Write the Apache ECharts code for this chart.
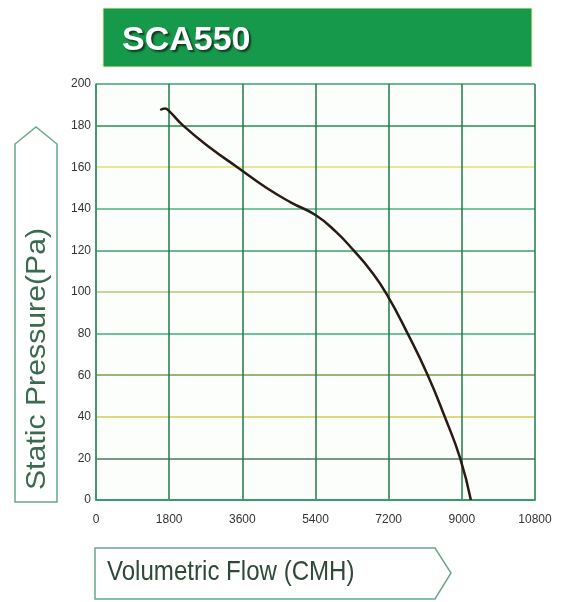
<!DOCTYPE html>
<html>
<head>
<meta charset="utf-8">
<script src="https://cdn.jsdelivr.net/npm/echarts@6/dist/echarts.min.js"></script>
<style>
html,body{margin:0;padding:0;background:#fff;}
#chart{width:561px;height:602px;}
</style>
</head>
<body>
<div id="chart"></div>
<script>
const title = "SCA550";
const xName = "Volumetric Flow (CMH)";
const yName = "Static Pressure(Pa)";
const flow =     [1580, 1700, 1800, 2145, 2800, 3477, 4200, 4800, 5400, 5900, 6337, 6750, 7150, 7668, 8162, 8580, 8960, 9222];
const pressure = [187.5, 188.2, 187, 180, 169.5, 160, 150, 143, 137, 129, 120, 110.5, 99, 80, 60, 40, 20, 0];
const xTicks = [0, 1800, 3600, 5400, 7200, 9000, 10800];
const yTicks = [0, 20, 40, 60, 80, 100, 120, 140, 160, 180, 200];

const hColors = ['#3a9a6a', '#4a7a5a', '#d6cc55', '#7e9a50', '#40b080', '#b8c870', '#3aa070', '#50b080', '#e2e070', '#2a8a50', '#3aa070'];

const chart = echarts.init(document.getElementById('chart'));
chart.setOption({
  backgroundColor: '#ffffff',
  animation: false,
  grid: {left: 96, right: 26, top: 84, bottom: 102, show: true, backgroundColor: '#fbfefb', borderWidth: 0},
  xAxis: {
    type: 'value', min: xTicks[0], max: xTicks[xTicks.length - 1], interval: 1800,
    axisLine: {show: true, lineStyle: {color: '#3a9a6a', width: 2}},
    axisTick: {show: false},
    axisLabel: {color: '#333', fontSize: 12, margin: 14, fontFamily: 'Liberation Sans', formatter: v => String(v)},
    splitLine: {show: true, lineStyle: {color: '#1f7a4a', width: 1.5}}
  },
  yAxis: {
    type: 'value', min: yTicks[0], max: yTicks[yTicks.length - 1], interval: 20,
    axisLine: {show: true, lineStyle: {color: '#3a9a6a', width: 1.5}},
    axisTick: {show: false},
    axisLabel: {color: '#333', fontSize: 12, margin: 5, fontFamily: 'Liberation Sans', formatter: v => String(v)},
    splitLine: {show: true, lineStyle: {color: hColors, width: 1.5}}
  },
  series: [{
    type: 'line',
    data: flow.map((f, i) => [f, pressure[i]]),
    smooth: 0.5,
    showSymbol: false,
    lineStyle: {color: '#2a1a14', width: 2.5}
  }],
  graphic: [
    {type: 'rect', shape: {x: 103, y: 8, width: 429, height: 59}, style: {fill: '#17994b', stroke: '#f2eeb0', lineWidth: 1}},
    {type: 'text', x: 122, y: 41, style: {text: title, fill: '#ffffff', font: 'bold 34px "Liberation Sans"', align: 'left', verticalAlign: 'middle', textShadowColor: '#0d3b22', textShadowBlur: 2, textShadowOffsetX: 2, textShadowOffsetY: 2}},
    {type: 'polygon', shape: {points: [[15, 502], [15, 144], [36, 127], [57, 144], [57, 502]]}, style: {fill: 'none', stroke: '#6aa88a', lineWidth: 1.5}},
    {type: 'text', x: 37, y: 359, rotation: Math.PI / 2, scaleX: 1.08, style: {text: yName, fill: '#3a6a50', font: '28px "Liberation Sans"', align: 'center', verticalAlign: 'middle'}},
    {type: 'polygon', shape: {points: [[95, 548], [435, 548], [451, 573], [435, 599], [95, 599]]}, style: {fill: 'none', stroke: '#6aa88a', lineWidth: 1.5}},
    {type: 'text', x: 107, y: 572, scaleX: 0.86, style: {text: xName, fill: '#2d4a38', font: '28px "Liberation Sans"', align: 'left', verticalAlign: 'middle'}}
  ]
});
</script>
</body>
</html>
